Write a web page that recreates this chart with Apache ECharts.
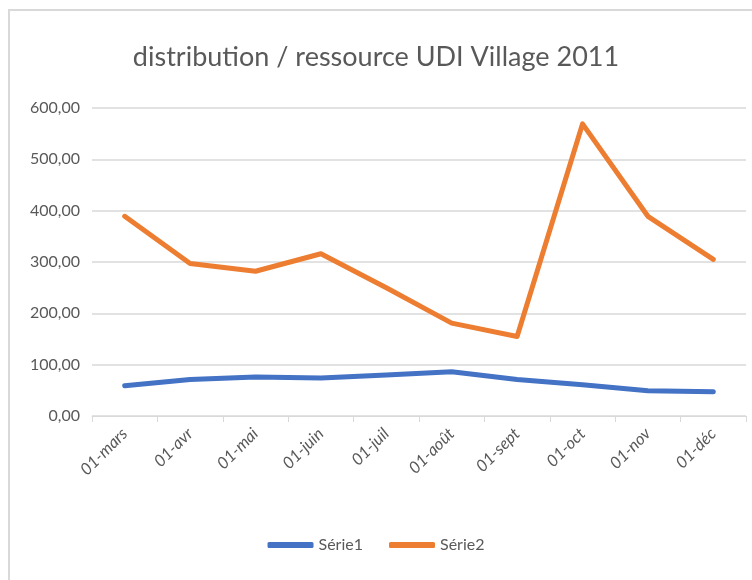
<!DOCTYPE html>
<html>
<head>
<meta charset="utf-8">
<script src="https://cdn.jsdelivr.net/npm/echarts@6/dist/echarts.min.js"></script>
<style>
  html, body { margin: 0; padding: 0; background: #fff; }
  #chart { width: 752px; height: 580px; }
</style>
</head>
<body>
<div id="chart"></div>
<script>
const categories = ['01-mars', '01-avr', '01-mai', '01-juin', '01-juil', '01-août', '01-sept', '01-oct', '01-nov', '01-déc'];
const serie1 = [59, 71, 76, 74, 80, 86, 71, 61, 49, 47];
const serie2 = [389, 297, 282, 316, 250, 181, 155, 569, 389, 305];
const yTicks = { min: 0, max: 600, interval: 100 };

var dom = document.getElementById('chart');
var myChart = echarts.init(dom, null, { renderer: 'canvas' });
const font = 'Lato, "Open Sans", sans-serif';
const textColor = '#595959';

var option = {
  backgroundColor: '#ffffff',
  animation: false,
  title: {
    text: 'distribution / ressource UDI Village 2011',
    left: 'center',
    top: 39,
    textStyle: { color: textColor, fontFamily: font, fontSize: 27, fontWeight: 'normal' }
  },
  graphic: [{
    type: 'rect',
    shape: { x: 9, y: 10, width: 760, height: 590 },
    style: { fill: 'none', stroke: '#d9d9d9', lineWidth: 2 },
    silent: true
  }],
  legend: {
    bottom: 22,
    left: 'center',
    itemWidth: 46,
    itemHeight: 6,
    itemGap: 26,
    icon: 'roundRect',
    textStyle: { color: textColor, fontFamily: font, fontSize: 16 },
    data: ['Série1', 'Série2']
  },
  grid: { left: 92, right: 6, top: 108, bottom: 164 },
  xAxis: {
    type: 'category',
    data: categories,
    boundaryGap: true,
    axisLine: { lineStyle: { color: '#d9d9d9', width: 1 } },
    axisTick: { show: true, length: 6, lineStyle: { color: '#d9d9d9' } },
    axisLabel: {
      rotate: 45,
      margin: 15,
      color: textColor,
      fontFamily: font,
      fontSize: 16.5,
      fontStyle: 'italic'
    }
  },
  yAxis: {
    type: 'value',
    min: yTicks.min,
    max: yTicks.max,
    interval: yTicks.interval,
    axisLine: { show: false },
    axisTick: { show: false },
    splitLine: { lineStyle: { color: '#d9d9d9', width: 1.5 } },
    axisLabel: {
      color: textColor,
      fontFamily: font,
      fontSize: 16,
      margin: 12,
      formatter: function (v) { return v.toFixed(2).replace('.', ','); }
    }
  },
  series: [
    {
      name: 'Série1',
      type: 'line',
      data: serie1,
      symbol: 'none',
      color: '#4472c4',
      lineStyle: { width: 5, cap: 'round', join: 'round' }
    },
    {
      name: 'Série2',
      type: 'line',
      data: serie2,
      symbol: 'none',
      color: '#ed7d31',
      lineStyle: { width: 5, cap: 'round', join: 'round' }
    }
  ]
};

myChart.setOption(option);
window.addEventListener('resize', myChart.resize);
</script>
</body>
</html>
